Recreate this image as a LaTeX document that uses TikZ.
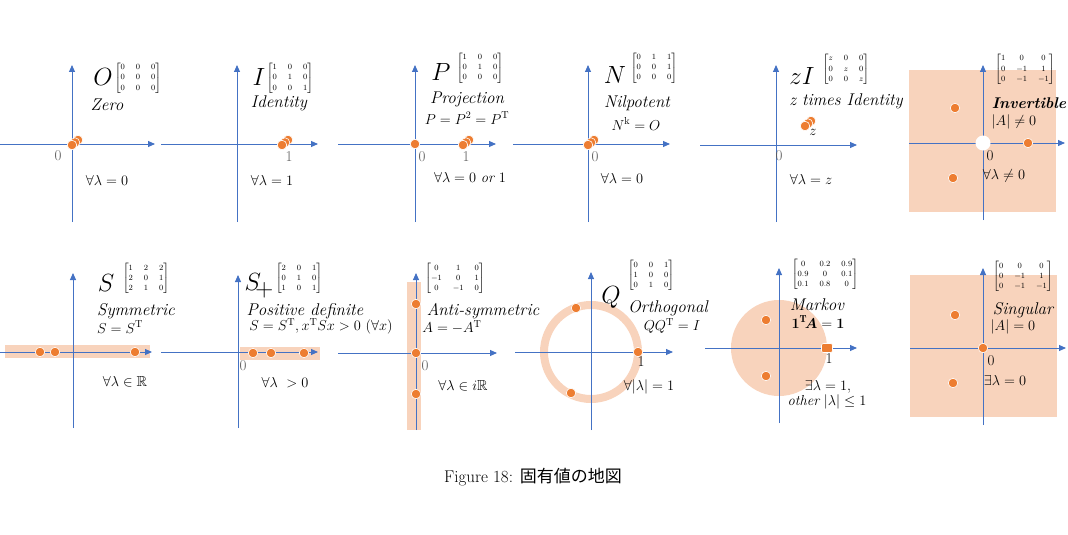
\documentclass[tikz,border=0pt]{standalone}
\usepackage{amsmath,amssymb}
\usepackage{fontspec}
\newfontfamily\cjk{Noto Sans CJK JP}
\usetikzlibrary{arrows.meta}
\definecolor{axblue}{HTML}{4472C4}
\definecolor{dotor}{HTML}{ED7D31}
\definecolor{peach}{HTML}{F8D3BC}
\definecolor{numgray}{HTML}{595959}
\tikzset{
  axis/.style={draw=axblue, line width=0.9pt, -{Triangle[length=7pt,width=6pt]}},
  dot/.style={circle, fill=dotor, draw=white, line width=0.6pt, inner sep=0pt, minimum size=9.5pt},
  bigl/.style={font=\fontsize{35}{35}\selectfont, inner sep=0pt},
  lab/.style={font=\fontsize{17}{18}\selectfont\itshape, inner sep=0pt},
  blab/.style={font=\fontsize{15.5}{16}\selectfont\bfseries\itshape, inner sep=0pt},
  mat/.style={font=\fontsize{8.5}{10}\selectfont, inner sep=0pt},
  eq/.style={font=\fontsize{14.5}{16}\selectfont, inner sep=0pt},
  num/.style={font=\fontsize{15}{15}\selectfont, text=numgray, inner sep=0pt},
  bnum/.style={font=\fontsize{15}{15}\selectfont, inner sep=0pt},
  band/.style={fill=peach, draw=none},
}
\newcommand{\mymat}[1]{$\setlength{\arraycolsep}{5.5pt}\begin{bmatrix}#1\end{bmatrix}$}
\begin{document}
\begin{tikzpicture}[x=1pt,y=-1pt]
\useasboundingbox (0,0) rectangle (1068,535);

% ---------- backgrounds ----------
\fill[peach] (909,70) rectangle (1056,212);
\fill[peach] (910,275) rectangle (1057,417);
\fill[band] (5,345) rectangle (150,358);
\fill[band] (240,347) rectangle (320,360);
\fill[band] (407,282) rectangle (421,430);
\draw[peach, line width=8pt] (591,352) circle[radius=47];
\fill[peach] (779,348) circle[radius=48];

% ---------- axes: top row ----------
\coordinate (h1a) at (0,144);   \coordinate (h1b) at (155,144);
\coordinate (v1a) at (72,222);  \coordinate (v1b) at (72,65);
\coordinate (h2a) at (161,144); \coordinate (h2b) at (318,144);
\coordinate (v2a) at (237,222); \coordinate (v2b) at (237,65);
\coordinate (h3a) at (338,144); \coordinate (h3b) at (496,144);
\coordinate (v3a) at (415,222); \coordinate (v3b) at (415,65);
\coordinate (h4a) at (513,144); \coordinate (h4b) at (670,144);
\coordinate (v4a) at (588,222); \coordinate (v4b) at (588,65);
\coordinate (h5a) at (700,145); \coordinate (h5b) at (857,145);
\coordinate (v5a) at (776,222); \coordinate (v5b) at (776,65);
\coordinate (h6a) at (909,143); \coordinate (h6b) at (1065,143);
\coordinate (v6a) at (983,220); \coordinate (v6b) at (983,65);
% ---------- axes: bottom row ----------
\coordinate (h7a) at (0,352);   \coordinate (h7b) at (152,352);
\coordinate (v7a) at (73,428);  \coordinate (v7b) at (73,273);
\coordinate (h8a) at (161,352); \coordinate (h8b) at (318,352);
\coordinate (v8a) at (238,428); \coordinate (v8b) at (238,275);
\coordinate (h9a) at (338,353); \coordinate (h9b) at (497,353);
\coordinate (v9a) at (416,430); \coordinate (v9b) at (416,273);
\coordinate (h10a) at (515,352); \coordinate (h10b) at (673,352);
\coordinate (v10a) at (591,430); \coordinate (v10b) at (591,272);
\coordinate (h11a) at (705,348); \coordinate (h11b) at (857,348);
\coordinate (v11a) at (779,423); \coordinate (v11b) at (779,268);
\coordinate (h12a) at (910,348); \coordinate (h12b) at (1066,348);
\coordinate (v12a) at (983,425); \coordinate (v12b) at (983,268);

\foreach \i in {1,...,12}{
  \draw[axis] (h\i a) -- (h\i b);
  \draw[axis] (v\i a) -- (v\i b);
}

% ---------- Panel O ----------
\node[bigl] (tO) at (103,77) {$O$};
\node[mat] (mO) at (138,78) {\mymat{0&0&0\\0&0&0\\0&0&0}};
\node[lab] (lO) at (107,105) {Zero};
\node[num] (zO) at (58,156) {0};
\node[dot] (dO3) at (78,140) {};
\node[dot] (dO2) at (75,142.5) {};
\node[dot] (dO1) at (72,145) {};
\node[eq] (eO) at (107,180) {$\forall\lambda = 0$};

% ---------- Panel I ----------
\node[bigl] (tI) at (259,77) {$I$};
\node[mat] (mI) at (290,78) {\mymat{1&0&0\\0&1&0\\0&0&1}};
\node[lab] (lI) at (279,103) {Identity};
\node[num] (zI1) at (289,157) {1};
\node[dot] (dI3) at (288,140) {};
\node[dot] (dI2) at (285,142.5) {};
\node[dot] (dI1) at (282,145) {};
\node[eq] (eI) at (272,180) {$\forall\lambda = 1$};

% ---------- Panel P ----------
\node[bigl] (tP) at (441,72) {$P$};
\node[mat] (mP) at (480,68) {\mymat{1&0&0\\0&1&0\\0&0&0}};
\node[lab] (lP) at (467,99) {Projection};
\node[eq] (qP) at (467,118) {$P = P^2 = P^{\mathrm{T}}$};
\node[num] (zP0) at (422,157) {0};
\node[num] (zP1) at (466,157) {1};
\node[dot] (dP0) at (415,144) {};
\node[dot] (dP3) at (469,140) {};
\node[dot] (dP2) at (466,142.5) {};
\node[dot] (dP1) at (463,145) {};
\node[eq] (eP) at (470,178) {$\forall\lambda = 0\ \mathit{or}\ 1$};

% ---------- Panel N ----------
\node[bigl] (tN) at (615,75) {$N$};
\node[mat] (mN) at (654,68) {\mymat{0&1&1\\0&0&1\\0&0&0}};
\node[lab] (lN) at (637,103) {Nilpotent};
\node[eq] (qN) at (636,124) {$N^{\mathrm{k}} = O$};
\node[num] (zN) at (595,157) {0};
\node[dot] (dN3) at (594,140) {};
\node[dot] (dN2) at (591,142.5) {};
\node[dot] (dN1) at (588,145) {};
\node[eq] (eN) at (622,178) {$\forall\lambda = 0$};

% ---------- Panel zI ----------
\node[bigl] (tZ) at (802,76) {$zI$};
\node[mat] (mZ) at (846,69) {\mymat{z&0&0\\0&z&0\\0&0&z}};
\node[lab] (lZ) at (846,101) {z times Identity};
\node[num] (zZ) at (779,156) {0};
\node[dot] (dZ3) at (811,121) {};
\node[dot] (dZ2) at (808,123.5) {};
\node[dot] (dZ1) at (805,126) {};
\node[eq] (zz) at (813,132) {$z$};
\node[eq] (eZ) at (811,179) {$\forall\lambda = z$};

% ---------- Panel Invertible ----------
\fill[white] (983,143) circle[radius=7.5];
\node[mat] (mV) at (1025,69) {\mymat{1&0&0\\0&-1&1\\0&-1&-1}};
\node[blab] (lV) at (1029,103) {Invertible};
\node[eq] (qV) at (1014,122) {$|A| \neq 0$};
\node[bnum] (zV) at (990,156) {0};
\node[dot] (dV1) at (955,108) {};
\node[dot] (dV2) at (1028,143) {};
\node[dot] (dV3) at (953,178) {};
\node[eq] (eV) at (1004,176) {$\forall\lambda \neq 0$};

% ---------- Panel S ----------
\node[bigl] (tS) at (106,283) {$S$};
\node[mat] (mS) at (146,278) {\mymat{1&2&2\\2&0&1\\2&1&0}};
\node[lab] (lS) at (136,311) {Symmetric};
\node[eq] (qS) at (120,327) {$S = S^{\mathrm{T}}$};
\node[dot] (dS1) at (40,352) {};
\node[dot] (dS2) at (55,352) {};
\node[dot] (dS3) at (135,352) {};
\node[eq] (eS) at (125,382) {$\forall\lambda \in \mathbb{R}$};

% ---------- Panel S+ ----------
\node[bigl, anchor=east] (tSp) at (274,286) {$S_{\!+}$};
\node[mat] (mSp) at (299,278) {\mymat{2&0&1\\0&1&0\\1&0&1}};
\node[lab] (lSp) at (305,311) {Positive definite};
\node[eq] (qSp) at (321,326) {$S = S^{\mathrm{T}}, x^{\mathrm{T}}Sx > 0\ (\forall x)$};
\node[num] (zSp) at (243,366) {0};
\node[dot] (dSp1) at (253,353) {};
\node[dot] (dSp2) at (271,353) {};
\node[dot] (dSp3) at (304,353) {};
\node[eq] (eSp) at (285,383) {$\forall\lambda\ > 0$};

% ---------- Panel Anti-symmetric ----------
\node[mat] (mA) at (455,278) {\mymat{0&1&0\\-1&0&1\\0&-1&0}};
\node[lab] (lA) at (483,311) {Anti-symmetric};
\node[eq] (qA) at (452,327) {$A = -A^{\mathrm{T}}$};
\node[num] (zA) at (425,366) {0};
\node[dot] (dA1) at (416,304) {};
\node[dot] (dA2) at (416,353) {};
\node[dot] (dA3) at (416,394) {};
\node[eq] (eA) at (463,386) {$\forall\lambda \in i\mathbb{R}$};

% ---------- Panel Q ----------
\node[bigl] (tQ) at (611,297) {$Q$};
\node[mat] (mQ) at (651,275) {\mymat{0&0&1\\1&0&0\\0&1&0}};
\node[lab] (lQ) at (668,308) {Orthogonal};
\node[eq] (qQ) at (672,326) {$QQ^{\mathrm{T}} = I$};
\node[bnum] (zQ) at (641,362) {1};
\node[dot] (dQ1) at (576,308) {};
\node[dot] (dQ2) at (638,352) {};
\node[dot] (dQ3) at (571,393) {};
\node[eq] (eQ) at (649,387) {$\forall|\lambda| = 1$};

% ---------- Panel Markov ----------
\node[mat] (mM) at (825,274) {\mymat{0&0.2&0.9\\0.9&0&0.1\\0.1&0.8&0}};
\node[lab] (lM) at (817,305) {Markov};
\node[eq] (qM) at (818,322) {$\boldsymbol{1}^{\mathbf{T}}\!\boldsymbol{A} = \boldsymbol{1}$};
\node[bnum] (zM) at (829,359) {1};
\node[dot] (dM1) at (766,320) {};
\node[dot, rounded corners=2pt, rectangle, minimum width=11pt, minimum height=9pt] (dM2) at (827,348) {};
\node[dot] (dM3) at (766,376) {};
\node[eq] (eM1) at (828,387) {$\exists\lambda = 1,$};
\node[eq] (eM2) at (827,402) {$\mathit{other}\ |\lambda| \leq 1$};

% ---------- Panel Singular ----------
\node[mat] (mG) at (1023,276) {\mymat{0&0&0\\0&-1&1\\0&-1&-1}};
\node[lab] (lG) at (1023,310) {Singular};
\node[eq] (qG) at (1013,327) {$|A| = 0$};
\node[bnum] (zG) at (991,361) {0};
\node[dot] (dG1) at (955,315) {};
\node[dot] (dG2) at (983,348) {};
\node[dot] (dG3) at (953,383) {};
\node[eq] (eG) at (1005,380) {$\exists\lambda = 0$};

% ---------- caption ----------
\node[font=\fontsize{17}{20}\selectfont, inner sep=0pt] (cap) at (533,477) {Figure 18: {\cjk 固有値の地図}};
\end{tikzpicture}
\end{document}
